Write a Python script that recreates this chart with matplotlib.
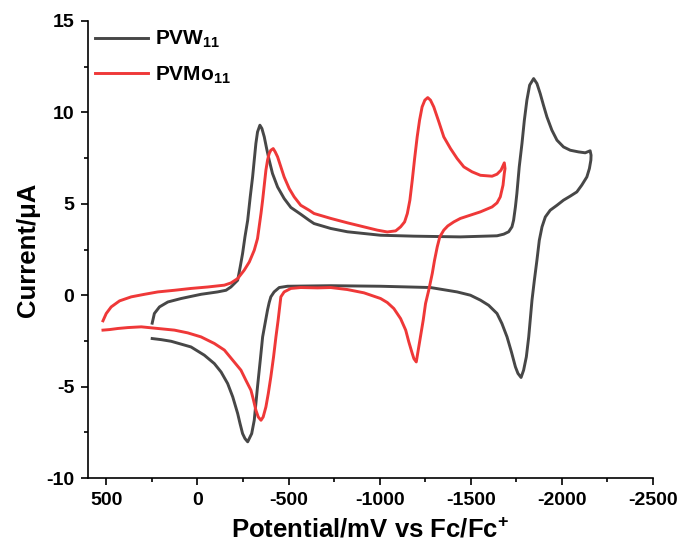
"""
Cyclic voltammograms of PVW11 and PVMo11 referenced to Fc/Fc+.
"""
import matplotlib
matplotlib.use("Agg")
import matplotlib.pyplot as plt
from matplotlib.ticker import MultipleLocator

# PVW11: potential (mV vs Fc/Fc+) and current (uA), one closed scan
pvw_potential = [
    248, 236, 208, 162, 89, -20, -111, -157, -184, -221, -235, -248, -261,
    -276, -290, -303, -312, -321, -330, -343, -354, -367, -380, -394, -412,
    -440, -476, -513, -567, -613, -640, -732, -823, -1005, -1188, -1443,
    -1644, -1681, -1708, -1726, -1735, -1745, -1753, -1766, -1781, -1794,
    -1808, -1823, -1845, -1863, -1881, -1899, -1918, -1945, -1973, -2009,
    -2046, -2091, -2128, -2155, -2160, -2159, -2151, -2137, -2109, -2082,
    -2046, -2009, -1973, -1936, -1909, -1891, -1876, -1863, -1849, -1836,
    -1818, -1805, -1790, -1776, -1759, -1745, -1723, -1699, -1671,
    -1644, -1598, -1553, -1498, -1425, -1279, -1005, -732, -494, -449,
    -421, -403, -394, -385, -374, -358, -345, -330, -321, -312, -298, -276,
    -261, -248, -234, -221, -194, -166, -130, -93, -38, 35, 144, 199, 248,
]
pvw_current = [
    -1.53, -1.0, -0.64, -0.37, -0.18, 0.05, 0.18, 0.27, 0.45, 0.82, 1.55, 2.28, 3.19,
    4.1, 5.38, 6.47, 7.39, 8.3, 8.93, 9.3, 9.12, 8.66, 8.02, 7.39, 6.66,
    5.92, 5.29, 4.8, 4.43, 4.1, 3.92, 3.65, 3.47, 3.28, 3.23, 3.19,
    3.25, 3.34, 3.47, 3.74, 4.1, 4.83, 5.56, 7.02, 8.3, 9.57,
    10.67, 11.49, 11.85, 11.58, 11.03, 10.39, 9.75, 9.03, 8.48, 8.11,
    7.93, 7.84, 7.79, 7.9, 7.66, 7.39, 6.93, 6.47, 6.02, 5.65,
    5.42, 5.2, 4.92, 4.65, 4.28, 3.74, 3.0, 1.91, 0.82, -0.27,
    -2.28, -3.37, -4.1, -4.5, -4.28, -3.92, -3.1, -2.28, -1.55,
    -1.0, -0.55, -0.27, 0.0, 0.18, 0.42, 0.49, 0.52, 0.49, 0.42,
    0.18, -0.09, -0.4, -0.8, -1.4, -2.28, -3.56, -5.0, -5.92, -6.84, -7.57, -8.02,
    -7.84, -7.57, -7.02, -6.47, -5.56, -4.83, -4.2, -3.74, -3.28, -2.83, -2.52, -2.43, -2.37,
]

# PVMo11: potential (mV vs Fc/Fc+) and current (uA), one closed scan
pvmo_potential = [
    518, 500, 473, 427, 363, 290, 217, 126, 35, -57, -148, -184, -221, -257,
    -285, -312, -330, -339, -349, -358, -367, -376, -385, -394, -403, -416,
    -427, -440, -458, -476, -504, -531, -567, -613, -640, -732, -823, -914,
    -987, -1042, -1088, -1115, -1137, -1152, -1166, -1179, -1192, -1206,
    -1219, -1233, -1248, -1264, -1279, -1297, -1325, -1352, -1389, -1425,
    -1462, -1507, -1553, -1617, -1644, -1666, -1684, -1688, -1684, -1677,
    -1662, -1644, -1617, -1553, -1498, -1443, -1407, -1374, -1352, -1330,
    -1316, -1301, -1289, -1270, -1252, -1239, -1224, -1211, -1201, -1188,
    -1179, -1160, -1143, -1115, -1078, -1042, -1005, -914, -823, -732, -659,
    -567, -513, -476, -458, -443, -431, -418, -403, -389, -376, -361, -349,
    -334, -321, -308, -294, -266, -239, -194, -148, -93, -20, 53, 126, 217,
    308, 381, 436, 482, 518,
]
pvmo_current = [
    -1.4, -1.0, -0.64, -0.31, -0.09, 0.05, 0.18, 0.27, 0.37, 0.45, 0.55, 0.67, 0.91, 1.37,
    1.82, 2.46, 3.1, 3.74, 4.47, 5.2, 6.02, 6.84, 7.39, 7.75, 7.93, 8.02,
    7.84, 7.57, 7.02, 6.47, 5.83, 5.38, 4.92, 4.65, 4.47, 4.2, 3.96, 3.74,
    3.56, 3.46, 3.52, 3.74, 4.01, 4.47, 5.2, 6.29, 7.48, 8.66,
    9.57, 10.3, 10.67, 10.81, 10.67, 10.3, 9.48, 8.66, 8.02, 7.48,
    7.02, 6.75, 6.56, 6.51, 6.62, 6.84, 7.24, 6.93, 6.66, 6.02,
    5.38, 5.05, 4.83, 4.56, 4.38, 4.2, 4.01, 3.79, 3.56, 3.19,
    2.64, 1.9, 1.2, 0.3, -0.45, -1.37, -2.28, -3.1, -3.65, -3.47,
    -3.19, -2.55, -1.91, -1.28, -0.73, -0.4, -0.18, 0.13, 0.31, 0.42, 0.4,
    0.42, 0.37, 0.18, -0.09, -1.37, -2.28, -3.37, -4.47, -5.38, -6.11, -6.66, -6.84,
    -6.66, -6.29, -5.74, -5.2, -4.65, -4.1, -3.56, -3.0, -2.64, -2.28, -2.06, -1.91, -1.82,
    -1.73, -1.77, -1.82, -1.88, -1.91,
]

x_ticks = [500, 0, -500, -1000, -1500, -2000, -2500]
y_ticks = [-10, -5, 0, 5, 10, 15]

plt.rcParams["font.family"] = ["Liberation Sans", "DejaVu Sans"]
plt.rcParams["font.weight"] = "bold"
plt.rcParams["axes.unicode_minus"] = False
plt.rcParams["mathtext.fontset"] = "custom"
plt.rcParams["mathtext.rm"] = "Liberation Sans:bold"
plt.rcParams["mathtext.it"] = "Liberation Sans:bold"
plt.rcParams["mathtext.bf"] = "Liberation Sans:bold"


def main() -> None:
    fig = plt.figure(figsize=(6.84, 5.57), dpi=100)
    ax = fig.add_axes([0.1287, 0.1418, 0.826, 0.8205])

    ax.plot(pvw_potential, pvw_current, color="#474747", lw=2.1,
            label="PVW$_{11}$", solid_joinstyle="round")
    ax.plot(pvmo_potential, pvmo_current, color="#ef3838", lw=2.1,
            label="PVMo$_{11}$", solid_joinstyle="round")

    ax.set_xlim(600, -2500)
    ax.set_ylim(-10, 15)
    ax.set_xticks(x_ticks)
    ax.set_yticks(y_ticks)
    ax.xaxis.set_minor_locator(MultipleLocator(250))
    ax.yaxis.set_minor_locator(MultipleLocator(2.5))
    ax.tick_params(which="major", direction="out", length=5, width=1.2,
                   labelsize=14, pad=5)
    ax.tick_params(which="minor", direction="out", length=3, width=1.2)
    for lbl in ax.get_xticklabels() + ax.get_yticklabels():
        lbl.set_fontweight("bold")

    for side in ("top", "right"):
        ax.spines[side].set_visible(False)
    for side in ("left", "bottom"):
        ax.spines[side].set_linewidth(1.2)

    ax.set_xlabel("Potential/mV vs Fc/Fc$^{+}$", fontsize=18.5,
                  fontweight="bold", labelpad=7)
    ax.set_ylabel("Current/μA", fontsize=18.5, fontweight="bold", labelpad=4)

    ax.legend(loc="upper left", bbox_to_anchor=(-0.0207, 1.0235), frameon=False,
              handlelength=2.55, handletextpad=0.34, labelspacing=0.69,
              prop={"size": 15, "weight": "bold"})

    fig.savefig("out.png", dpi=100)


if __name__ == "__main__":
    main()
